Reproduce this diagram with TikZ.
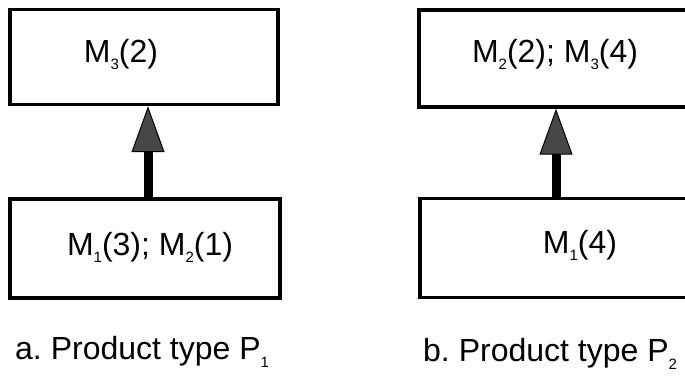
\documentclass[tikz,border=0pt]{standalone}
\usepackage{fontspec}
\setmainfont{Liberation Sans}
\usetikzlibrary{arrows.meta}
\frenchspacing
\newcommand\Msub[1]{M\raisebox{-7pt}{\fontsize{15}{15}\selectfont #1}}
\newcommand\Psub[1]{P\raisebox{-8pt}{\fontsize{15}{15}\selectfont #1}}
\begin{document}
\begin{tikzpicture}[x=1pt,y=-1pt,
  box/.style={draw=black,line width=3.5pt,minimum width=#1,minimum height=95pt,inner sep=0pt},
  lbl/.style={font=\fontsize{32}{38}\selectfont,inner sep=0pt,anchor=base},
  captxt/.style={font=\fontsize{32}{38}\selectfont,inner sep=0pt,anchor=base west},
  link/.style={line width=9pt,-{Triangle[width=33pt,length=46pt,line width=1pt,fill=black!72]}}]
\useasboundingbox (0,0) rectangle (685,379);
\node[box=268pt] (lt) at (144,57) {};
\node[box=270pt,minimum height=99pt] (lb) at (145,248.5) {};
\node[box=274pt,minimum height=97pt] (rt) at (556,58.5) {};
\node[box=272pt,minimum height=99pt] (rb) at (556,248) {};
\node[lbl] (ltt) at (121,63) {\Msub{3}(2)};
\node[lbl] (lbt) at (150,256) {\Msub{1}(3); \Msub{2}(1)};
\node[lbl] (rtt) at (555,63) {\Msub{2}(2); \Msub{3}(4)};
\node[lbl] (rbt) at (580,254) {\Msub{1}(4)};
\node[captxt] (ca) at (15,359) {a. Product type \Psub{1}};
\node[captxt] (cb) at (423,361) {b. Product type \Psub{2}};
\draw[link] ([xshift=3pt]lb.north) -- ([xshift=4pt]lt.south);
\draw[link] (rb.north) -- (rt.south);
\end{tikzpicture}
\end{document}
